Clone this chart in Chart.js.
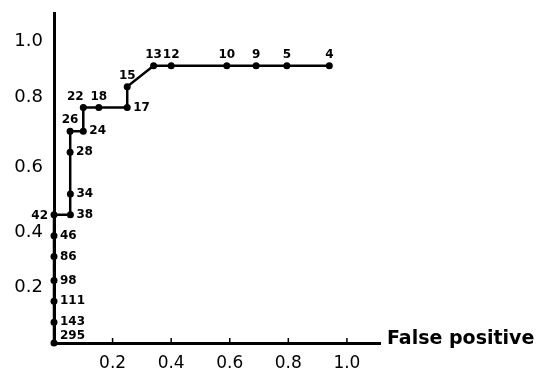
<!DOCTYPE html>
<html>
<head>
<meta charset="utf-8">
<script src="https://cdn.jsdelivr.net/npm/chart.js@4/dist/chart.umd.min.js"></script>
<style>
  html, body { margin: 0; padding: 0; background: #fff; }
  #wrap { width: 544px; height: 372px; }
</style>
</head>
<body>
<div id="wrap"><canvas id="roc"></canvas></div>
<script>
// threshold labels along the curve
const cutoffs = ['295', '143', '111', '98', '86', '46', '42', '38', '34', '28', '26', '24', '22', '18', '17', '15', '13', '12', '10', '9', '5', '4'];
// false positive rate
const falsePos = [0, 0, 0, 0, 0, 0, 0, 0.056, 0.056, 0.055, 0.055, 0.10, 0.10, 0.153, 0.25, 0.25, 0.34, 0.40, 0.59, 0.69, 0.795, 0.94];
// true positive rate
const truePos = [0, 0.07, 0.14, 0.21, 0.29, 0.36, 0.43, 0.43, 0.50, 0.64, 0.71, 0.71, 0.79, 0.79, 0.79, 0.86, 0.93, 0.93, 0.93, 0.93, 0.93, 0.93];
// where each cutoff label sits around its dot
const labelSide = ['ar', 'r', 'r', 'r', 'r', 'r', 'l', 'r', 'r', 'r', 'a', 'r', 'al', 'a', 'r', 'a', 'a', 'a', 'a', 'a', 'a', 'a'];

const xTicks = [0.2, 0.4, 0.6, 0.8, 1.0];
const xTickLabels = ['0.2', '0.4', '0.6', '0.8', '1.0'];
// y labels are hand lettered and sit a bit off their true values
const yTicks = [0.186, 0.371, 0.589, 0.824, 1.013];
const yTickLabels = ['0.2', '0.4', '0.6', '0.8', '1.0'];

const points = falsePos.map((x, i) => ({ x: x, y: truePos[i] }));

const cutoffLabels = {
    id: 'cutoffLabels',
    afterDatasetsDraw(chart) {
        const ctx = chart.ctx;
        const meta = chart.getDatasetMeta(0);
        ctx.save();
        ctx.fillStyle = '#000';
        ctx.font = 'bold 12px "DejaVu Sans"';
        meta.data.forEach((el, i) => {
            const side = labelSide[i];
            let x = el.x, y = el.y;
            ctx.textBaseline = 'middle';
            if (side === 'r') { ctx.textAlign = 'left'; x += 6; }
            else if (side === 'l') { ctx.textAlign = 'right'; x -= 6; y += 1; }
            else if (side === 'ar') { ctx.textAlign = 'left'; x += 6; y -= 7; }
            else if (side === 'al') { ctx.textAlign = 'center'; x -= 8; y -= 11; }
            else { ctx.textAlign = 'center'; y -= 11; }
            ctx.fillText(cutoffs[i], x, y);
        });
        ctx.restore();
    }
};

// small upward tick marks and the axis title at the right end
const axisExtras = {
    id: 'axisExtras',
    afterDraw(chart) {
        const ctx = chart.ctx;
        const xs = chart.scales.x;
        const area = chart.chartArea;
        ctx.save();
        ctx.strokeStyle = '#000';
        ctx.lineWidth = 1.5;
        xTicks.forEach(v => {
            const px = xs.getPixelForValue(v);
            ctx.beginPath();
            ctx.moveTo(px, area.bottom);
            ctx.lineTo(px, area.bottom - 5);
            ctx.stroke();
        });
        ctx.fillStyle = '#000';
        ctx.font = 'bold 19px "DejaVu Sans"';
        ctx.textAlign = 'left';
        ctx.textBaseline = 'middle';
        ctx.fillText('False positive', area.right + 7, area.bottom - 4);
        ctx.restore();
    }
};

new Chart(document.getElementById('roc'), {
    type: 'scatter',
    data: {
        datasets: [{
            data: points,
            showLine: true,
            borderColor: '#000',
            borderWidth: 2.5,
            backgroundColor: '#000',
            pointRadius: 3.5,
            pointBorderWidth: 0,
            pointHoverRadius: 3.5,
            tension: 0,
            clip: false
        }]
    },
    options: {
        responsive: true,
        maintainAspectRatio: false,
        animation: false,
        events: [],
        layout: { padding: { top: 13, right: 164, bottom: 0, left: 0 } },
        plugins: {
            legend: { display: false },
            tooltip: { enabled: false }
        },
        scales: {
            x: {
                type: 'linear',
                min: 0,
                max: 1.113,
                afterBuildTicks: s => { s.ticks = xTicks.map(v => ({ value: v })); },
                afterFit: s => { s.height = 29; s.paddingLeft = 0; s.paddingRight = 0; },
                grid: { display: false, drawTicks: false },
                border: { display: true, color: '#000', width: 3 },
                ticks: {
                    color: '#000',
                    padding: 10,
                    font: { family: '"DejaVu Sans"', size: 17 },
                    maxRotation: 0,
                    callback: (v, i) => xTickLabels[i]
                }
            },
            y: {
                type: 'linear',
                min: 0,
                max: 1.107,
                afterBuildTicks: s => { s.ticks = yTicks.map(v => ({ value: v })); },
                afterFit: s => { s.width = 54; s.paddingTop = 0; s.paddingBottom = 0; },
                grid: { display: false, drawTicks: false },
                border: { display: true, color: '#000', width: 3 },
                ticks: {
                    color: '#000',
                    padding: 11,
                    font: { family: '"DejaVu Sans"', size: 18 },
                    callback: (v, i) => yTickLabels[i]
                }
            }
        }
    },
    plugins: [cutoffLabels, axisExtras]
});
</script>
</body>
</html>
